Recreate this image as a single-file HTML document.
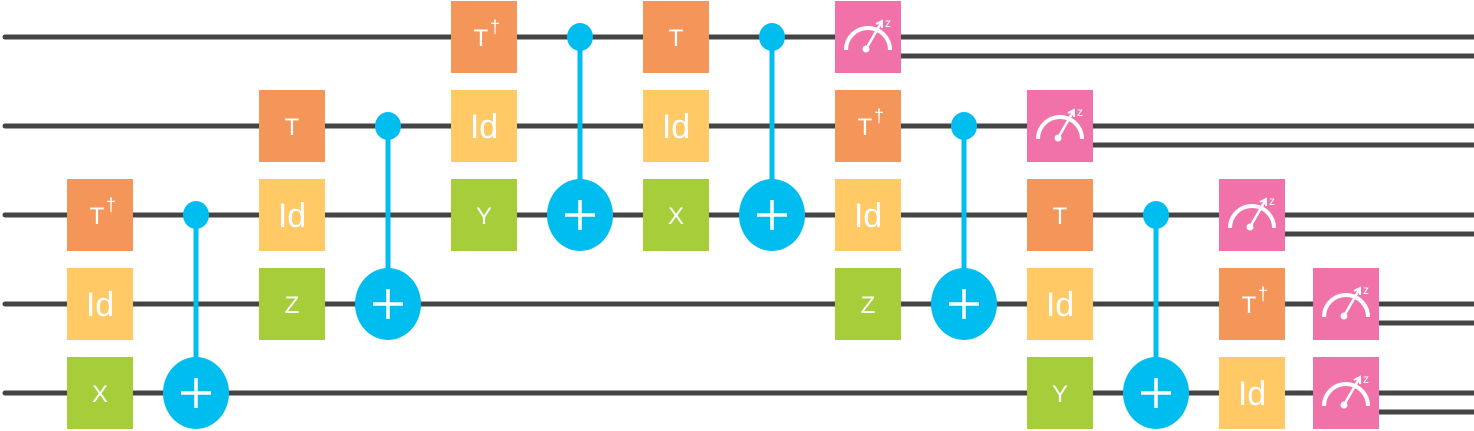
<!DOCTYPE html>
<html><head><meta charset="utf-8"><style>body{margin:0;background:#fff}svg{display:block}</style></head><body>
<svg id="s" width="1474" height="431" xmlns="http://www.w3.org/2000/svg" font-family="Liberation Sans, sans-serif">
<g stroke="#444" stroke-width="5" stroke-linecap="round">
<line x1="5" y1="37" x2="868" y2="37"/><line x1="868" y1="37" x2="1474" y2="37"/><line x1="900" y1="56" x2="1474" y2="56"/>
<line x1="5" y1="126" x2="1474" y2="126"/><line x1="1092" y1="145" x2="1474" y2="145"/>
<line x1="5" y1="215" x2="1474" y2="215"/><line x1="1284" y1="234" x2="1474" y2="234"/>
<line x1="5" y1="304" x2="1474" y2="304"/><line x1="1378" y1="323" x2="1474" y2="323"/>
<line x1="5" y1="393" x2="1474" y2="393"/><line x1="1378" y1="412" x2="1474" y2="412"/>
</g>
<g id="g"></g>
</svg>
<script>
var s=document.getElementById('g'),NS='http://www.w3.org/2000/svg';
function el(t,a,txt){var e=document.createElementNS(NS,t);for(var k in a)e.setAttribute(k,a[k]);if(txt)e.textContent=txt;s.appendChild(e);return e;}
var C={T:'#F4965A',Td:'#F4965A',Id:'#FFC966',X:'#A6CE3A',Y:'#A6CE3A',Z:'#A6CE3A',M:'#F072A8'};
var Y=[37,126,215,304,393];
function gate(t,x,w){var y=Y[w];el('rect',{x:x-33,y:y-36,width:66,height:72,fill:C[t]});
if(t=='M'){el('path',{d:'M'+(x-22)+' '+(y+13)+' A22 22 0 0 1 '+(x+22)+' '+(y+13),fill:'none',stroke:'#fff','stroke-width':4});
el('circle',{cx:x-2,cy:y+12,r:3.5,fill:'#fff'});el('line',{x1:x-2,y1:y+12,x2:x+13,y2:y-14,stroke:'#fff','stroke-width':2.5});
el('path',{d:'M'+(x+8)+' '+(y-13)+' L'+(x+14)+' '+(y-16)+' L'+(x+14)+' '+(y-9),fill:'none',stroke:'#fff','stroke-width':2});
el('text',{x:x+17,y:y-10,fill:'#fff','font-size':12},'z');return;}
if(t=='Id'){el('text',{x:x,y:y+12,fill:'#fff','font-size':34,'text-anchor':'middle'},'Id');return;}
if(t=='Td'){el('text',{x:x-3,y:y+9,fill:'#fff','font-size':24,'text-anchor':'middle'},'T');el('text',{x:x+11,y:y-4,fill:'#fff','font-size':18,'text-anchor':'middle'},'†');return;}
el('text',{x:x,y:y+9,fill:'#fff','font-size':24,'text-anchor':'middle'},t);}
function cx(x,c,t){el('line',{x1:x,y1:Y[c],x2:x,y2:Y[t],stroke:'#00BDF0','stroke-width':5});
el('ellipse',{cx:x,cy:Y[c],rx:13,ry:14,fill:'#00BDF0'});el('ellipse',{cx:x,cy:Y[t],rx:33,ry:36,fill:'#00BDF0'});
el('path',{d:'M'+(x-15)+' '+Y[t]+' H'+(x+15)+' M'+x+' '+(Y[t]-15)+' V'+(Y[t]+15),stroke:'#fff','stroke-width':3.5});}
var G=[['Td',100,2],['Id',100,3],['X',100,4],['T',292,1],['Id',292,2],['Z',292,3],['Td',484,0],['Id',484,1],['Y',484,2],
['T',676,0],['Id',676,1],['X',676,2],['M',868,0],['Td',868,1],['Id',868,2],['Z',868,3],['M',1060,1],['T',1060,2],['Id',1060,3],['Y',1060,4],
['M',1252,2],['Td',1252,3],['Id',1252,4],['M',1346,3],['M',1346,4]];
G.forEach(function(g){gate(g[0],g[1],g[2]);});
cx(196,2,4);cx(388,1,3);cx(580,0,2);cx(772,0,2);cx(964,1,3);cx(1156,2,4);
</script>
</body></html>
